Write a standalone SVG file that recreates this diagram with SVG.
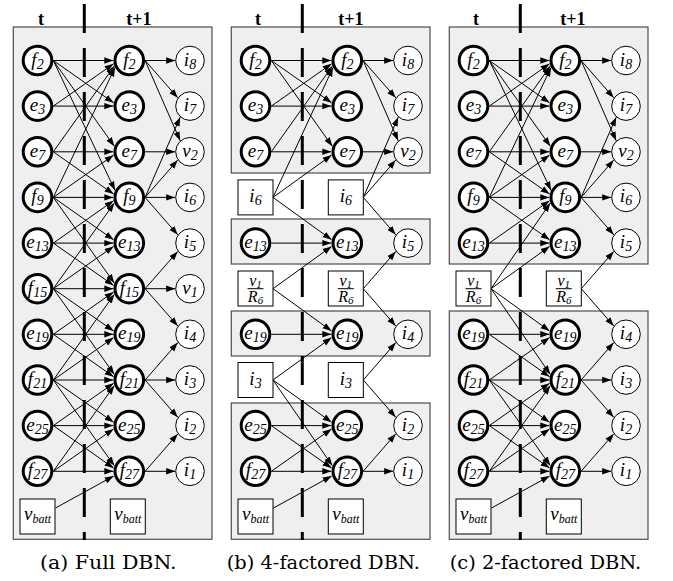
<svg xmlns="http://www.w3.org/2000/svg" width="673" height="581" viewBox="0 0 673 581" font-family="'Liberation Serif','DejaVu Serif',serif">
<style>
.bx{fill:#efefef;stroke:#4d4d4d;stroke-width:1.2}
.dash{stroke:#000;stroke-width:3;stroke-dasharray:29 15;fill:none}
.e{stroke:#000;stroke-width:1;fill:none;marker-end:url(#ah)}
.nt{fill:#fff;stroke:#000;stroke-width:3}
.no{fill:#fff;stroke:#000;stroke-width:1}
.sq{fill:#fff;stroke:#000;stroke-width:1}
.fl{stroke:#000;stroke-width:1}
text{font-family:'Liberation Serif','DejaVu Serif',serif}
.lb{font-style:italic;font-size:19px;text-anchor:middle}
.sb{font-size:14px}
.sbb{font-size:12px}
.fr{font-style:italic;font-size:16px;text-anchor:middle}
.sf{font-size:11px}
.hd{font-weight:bold;font-size:18px;text-anchor:middle}
.cap{font-family:'DejaVu Serif','Liberation Serif',serif;font-size:19px;text-anchor:middle}
</style>
<defs>
<marker id="ah" markerUnits="userSpaceOnUse" markerWidth="10" markerHeight="8" viewBox="-9 -4 10 8" refX="0" refY="0" orient="auto"><path d="M0,0 L-9,-3.2 L-9,3.2 z" fill="#000"/></marker>
</defs>

<g id="frames">
<g><rect class="bx" x="13.3" y="27" width="198.7" height="512.3"/></g>
<g transform="translate(218,0)">
<rect class="bx" x="13.3" y="27" width="198.7" height="146"/>
<rect class="bx" x="13.3" y="219" width="198.7" height="45"/>
<rect class="bx" x="13.3" y="311" width="198.7" height="45"/>
<rect class="bx" x="13.3" y="403" width="198.7" height="136.3"/>
</g>
<g transform="translate(436,0)">
<rect class="bx" x="13.3" y="27" width="198.7" height="237"/>
<rect class="bx" x="13.3" y="311" width="198.7" height="228.3"/>
</g>
</g>

<g id="separators">
<g><path class="dash" d="M84.3 4V540"/><text class="hd" x="41" y="25">t</text><text class="hd" x="139" y="25">t+1</text></g>
<g transform="translate(218,0)"><path class="dash" d="M84.3 4V540"/><text class="hd" x="40" y="25">t</text><text class="hd" x="133" y="25">t+1</text></g>
<g transform="translate(436,0)"><path class="dash" d="M84.3 4V540"/><text class="hd" x="40" y="25">t</text><text class="hd" x="137" y="25">t+1</text></g>
</g>

<g id="connectors" class="e">
<g id="conn-a">
<path d="M53.3 60.5H113.3"/><path d="M53.3 106.1H113.3"/><path d="M53.3 151.8H113.3"/><path d="M53.3 197.4H113.3"/><path d="M53.3 243.1H113.3"/><path d="M53.3 288.7H113.3"/><path d="M53.3 334.3H113.3"/><path d="M53.3 380H113.3"/><path d="M53.3 425.6H113.3"/><path d="M53.3 471.3H113.3"/>
<path d="M53.3 60.5L113.6 102.8"/><path d="M53.3 106.1L113.6 63.8"/>
<path d="M53.3 60.5L114.3 146.2"/><path d="M53.3 151.8L114.3 66.1"/>
<path d="M53.3 60.5L115 190.35"/><path d="M53.3 197.4L115 67.55"/>
<path d="M53.3 151.8L113.6 194.1"/><path d="M53.3 197.4L113.6 155.1"/>
<path d="M53.3 197.4L113.6 239.8"/><path d="M53.3 243.1L113.6 200.7"/>
<path d="M53.3 197.4L114.3 283.1"/><path d="M53.3 288.7L114.3 203"/>
<path d="M53.3 243.1L113.6 285.4"/><path d="M53.3 288.7L113.6 246.4"/>
<path d="M53.3 288.7L113.6 331"/><path d="M53.3 334.3L113.6 292"/>
<path d="M53.3 288.7L114.3 374.4"/><path d="M53.3 380L114.3 294.3"/>
<path d="M53.3 334.3L113.6 376.7"/><path d="M53.3 380L113.6 337.6"/>
<path d="M53.3 380L113.6 422.3"/><path d="M53.3 425.6L113.6 383.3"/>
<path d="M53.3 380L114.3 465.7"/><path d="M53.3 471.3L114.3 385.6"/>
<path d="M53.3 425.6L113.6 468"/><path d="M53.3 471.3L113.6 428.9"/>
<path d="M55.5 508L113.7 476"/>
<path d="M145.1 60.5H175.2"/><path d="M145.1 60.5L177.75 97.8"/><path d="M145.1 60.5L180.2 140.75"/>
<path d="M145.1 151.8H175.2"/>
<path d="M145.1 197.4L180.2 117.15"/><path d="M145.1 197.4L177.75 160.1"/><path d="M145.1 197.4H175.2"/><path d="M145.1 197.4L177.75 234.8"/>
<path d="M145.1 288.7L177.75 251.4"/><path d="M145.1 288.7H175.2"/><path d="M145.1 288.7L177.75 326"/>
<path d="M145.1 380L177.75 342.6"/><path d="M145.1 380H175.2"/><path d="M145.1 380L177.75 417.3"/>
<path d="M145.1 471.3L177.75 433.9"/><path d="M145.1 471.3H175.2"/>
</g>
<g id="conn-b" transform="translate(218,0)">
<path d="M53.3 60.5H113.3"/><path d="M53.3 106.1H113.3"/><path d="M53.3 151.8H113.3"/><path d="M53.3 243.1H113.3"/><path d="M53.3 334.3H113.3"/><path d="M53.3 425.6H113.3"/><path d="M53.3 471.3H113.3"/>
<path d="M53.3 60.5L113.6 102.8"/><path d="M53.3 106.1L113.6 63.8"/>
<path d="M53.3 60.5L114.3 146.2"/><path d="M53.3 151.8L114.3 66.1"/>
<path d="M55 197.4L115 67.55"/><path d="M55 197.4L113.6 155.1"/><path d="M55 197.4L113.6 239.8"/>
<path d="M55 288.7L113.6 246.4"/><path d="M55 288.7L113.6 331"/>
<path d="M55 380L113.6 337.6"/><path d="M55 380L113.6 422.3"/><path d="M55 380L114.3 465.7"/>
<path d="M53.3 425.6L113.6 468"/><path d="M53.3 471.3L113.6 428.9"/>
<path d="M55.5 508L113.7 476"/>
<path d="M145.1 60.5H175.2"/><path d="M145.1 60.5L177.75 97.8"/><path d="M145.1 60.5L180.2 140.75"/>
<path d="M145.1 151.8H175.2"/>
<path d="M145.3 197.4L180.2 117.15"/><path d="M145.3 197.4L177.75 160.1"/><path d="M145.3 197.4L177.75 234.8"/>
<path d="M145.3 288.7L177.75 251.4"/><path d="M145.3 288.7L177.75 326"/>
<path d="M145.3 380L177.75 342.6"/><path d="M145.3 380L177.75 417.3"/>
<path d="M145.1 471.3L177.75 433.9"/><path d="M145.1 471.3H175.2"/>
</g>
<g id="conn-c" transform="translate(436,0)">
<path d="M53.3 60.5H113.3"/><path d="M53.3 106.1H113.3"/><path d="M53.3 151.8H113.3"/><path d="M53.3 197.4H113.3"/><path d="M53.3 243.1H113.3"/><path d="M53.3 334.3H113.3"/><path d="M53.3 380H113.3"/><path d="M53.3 425.6H113.3"/><path d="M53.3 471.3H113.3"/>
<path d="M53.3 60.5L113.6 102.8"/><path d="M53.3 106.1L113.6 63.8"/>
<path d="M53.3 60.5L114.3 146.2"/><path d="M53.3 151.8L114.3 66.1"/>
<path d="M53.3 60.5L115 190.35"/><path d="M53.3 197.4L115 67.55"/>
<path d="M53.3 151.8L113.6 194.1"/><path d="M53.3 197.4L113.6 155.1"/>
<path d="M53.3 197.4L113.6 239.8"/><path d="M53.3 243.1L113.6 200.7"/>
<path d="M55 288.7L114.3 203"/><path d="M55 288.7L113.6 246.4"/><path d="M55 288.7L113.6 331"/><path d="M55 288.7L114.3 374.4"/>
<path d="M53.3 334.3L113.6 376.7"/><path d="M53.3 380L113.6 337.6"/>
<path d="M53.3 380L113.6 422.3"/><path d="M53.3 425.6L113.6 383.3"/>
<path d="M53.3 380L114.3 465.7"/><path d="M53.3 471.3L114.3 385.6"/>
<path d="M53.3 425.6L113.6 468"/><path d="M53.3 471.3L113.6 428.9"/>
<path d="M55.5 508L113.7 476"/>
<path d="M145.1 60.5H175.2"/><path d="M145.1 60.5L177.75 97.8"/><path d="M145.1 60.5L180.2 140.75"/>
<path d="M145.1 151.8H175.2"/>
<path d="M145.1 197.4L180.2 117.15"/><path d="M145.1 197.4L177.75 160.1"/><path d="M145.1 197.4H175.2"/><path d="M145.1 197.4L177.75 234.8"/>
<path d="M145.3 288.7L177.75 251.4"/><path d="M145.3 288.7L177.75 326"/>
<path d="M145.1 380L177.75 342.6"/><path d="M145.1 380H175.2"/><path d="M145.1 380L177.75 417.3"/>
<path d="M145.1 471.3L177.75 433.9"/><path d="M145.1 471.3H175.2"/>
</g>
</g>

<g id="nodes-a">
<g id="a-t-f2"><circle class="nt" cx="37.5" cy="60.5" r="14.3"/><text class="lb" x="37.5" y="65.5">f<tspan class="sb" dy="3">2</tspan></text></g>
<g id="a-t-e3"><circle class="nt" cx="37.5" cy="106.1" r="14.3"/><text class="lb" x="37.5" y="111.1">e<tspan class="sb" dy="3">3</tspan></text></g>
<g id="a-t-e7"><circle class="nt" cx="37.5" cy="151.8" r="14.3"/><text class="lb" x="37.5" y="156.8">e<tspan class="sb" dy="3">7</tspan></text></g>
<g id="a-t-f9"><circle class="nt" cx="37.5" cy="197.4" r="14.3"/><text class="lb" x="37.5" y="202.4">f<tspan class="sb" dy="3">9</tspan></text></g>
<g id="a-t-e13"><circle class="nt" cx="37.5" cy="243.1" r="14.3"/><text class="lb" x="37.5" y="248.1">e<tspan class="sb" dy="3">13</tspan></text></g>
<g id="a-t-f15"><circle class="nt" cx="37.5" cy="288.7" r="14.3"/><text class="lb" x="37.5" y="293.7">f<tspan class="sb" dy="3">15</tspan></text></g>
<g id="a-t-e19"><circle class="nt" cx="37.5" cy="334.3" r="14.3"/><text class="lb" x="37.5" y="339.3">e<tspan class="sb" dy="3">19</tspan></text></g>
<g id="a-t-f21"><circle class="nt" cx="37.5" cy="380" r="14.3"/><text class="lb" x="37.5" y="385">f<tspan class="sb" dy="3">21</tspan></text></g>
<g id="a-t-e25"><circle class="nt" cx="37.5" cy="425.6" r="14.3"/><text class="lb" x="37.5" y="430.6">e<tspan class="sb" dy="3">25</tspan></text></g>
<g id="a-t-f27"><circle class="nt" cx="37.5" cy="471.3" r="14.3"/><text class="lb" x="37.5" y="476.3">f<tspan class="sb" dy="3">27</tspan></text></g>
<g id="a-t-vbatt"><rect class="sq" x="20" y="499" width="35" height="35"/><text class="lb" x="37.5" y="520">v<tspan class="sbb" dy="3">batt</tspan></text></g>
<g id="a-t1-f2"><circle class="nt" cx="129.3" cy="60.5" r="14.3"/><text class="lb" x="129.3" y="65.5">f<tspan class="sb" dy="3">2</tspan></text></g>
<g id="a-t1-e3"><circle class="nt" cx="129.3" cy="106.1" r="14.3"/><text class="lb" x="129.3" y="111.1">e<tspan class="sb" dy="3">3</tspan></text></g>
<g id="a-t1-e7"><circle class="nt" cx="129.3" cy="151.8" r="14.3"/><text class="lb" x="129.3" y="156.8">e<tspan class="sb" dy="3">7</tspan></text></g>
<g id="a-t1-f9"><circle class="nt" cx="129.3" cy="197.4" r="14.3"/><text class="lb" x="129.3" y="202.4">f<tspan class="sb" dy="3">9</tspan></text></g>
<g id="a-t1-e13"><circle class="nt" cx="129.3" cy="243.1" r="14.3"/><text class="lb" x="129.3" y="248.1">e<tspan class="sb" dy="3">13</tspan></text></g>
<g id="a-t1-f15"><circle class="nt" cx="129.3" cy="288.7" r="14.3"/><text class="lb" x="129.3" y="293.7">f<tspan class="sb" dy="3">15</tspan></text></g>
<g id="a-t1-e19"><circle class="nt" cx="129.3" cy="334.3" r="14.3"/><text class="lb" x="129.3" y="339.3">e<tspan class="sb" dy="3">19</tspan></text></g>
<g id="a-t1-f21"><circle class="nt" cx="129.3" cy="380" r="14.3"/><text class="lb" x="129.3" y="385">f<tspan class="sb" dy="3">21</tspan></text></g>
<g id="a-t1-e25"><circle class="nt" cx="129.3" cy="425.6" r="14.3"/><text class="lb" x="129.3" y="430.6">e<tspan class="sb" dy="3">25</tspan></text></g>
<g id="a-t1-f27"><circle class="nt" cx="129.3" cy="471.3" r="14.3"/><text class="lb" x="129.3" y="476.3">f<tspan class="sb" dy="3">27</tspan></text></g>
<g id="a-t1-vbatt"><rect class="sq" x="110.3" y="499" width="35" height="35"/><text class="lb" x="127.8" y="520">v<tspan class="sbb" dy="3">batt</tspan></text></g>
<g id="a-i8"><circle class="no" cx="190" cy="60.5" r="14.3"/><text class="lb" x="190" y="65.5">i<tspan class="sb" dy="3">8</tspan></text></g>
<g id="a-i7"><circle class="no" cx="190" cy="106.1" r="14.3"/><text class="lb" x="190" y="111.1">i<tspan class="sb" dy="3">7</tspan></text></g>
<g id="a-v2"><circle class="no" cx="190" cy="151.8" r="14.3"/><text class="lb" x="190" y="156.8">v<tspan class="sb" dy="3">2</tspan></text></g>
<g id="a-i6"><circle class="no" cx="190" cy="197.4" r="14.3"/><text class="lb" x="190" y="202.4">i<tspan class="sb" dy="3">6</tspan></text></g>
<g id="a-i5"><circle class="no" cx="190" cy="243.1" r="14.3"/><text class="lb" x="190" y="248.1">i<tspan class="sb" dy="3">5</tspan></text></g>
<g id="a-v1"><circle class="no" cx="190" cy="288.7" r="14.3"/><text class="lb" x="190" y="293.7">v<tspan class="sb" dy="3">1</tspan></text></g>
<g id="a-i4"><circle class="no" cx="190" cy="334.3" r="14.3"/><text class="lb" x="190" y="339.3">i<tspan class="sb" dy="3">4</tspan></text></g>
<g id="a-i3"><circle class="no" cx="190" cy="380" r="14.3"/><text class="lb" x="190" y="385">i<tspan class="sb" dy="3">3</tspan></text></g>
<g id="a-i2"><circle class="no" cx="190" cy="425.6" r="14.3"/><text class="lb" x="190" y="430.6">i<tspan class="sb" dy="3">2</tspan></text></g>
<g id="a-i1"><circle class="no" cx="190" cy="471.3" r="14.3"/><text class="lb" x="190" y="476.3">i<tspan class="sb" dy="3">1</tspan></text></g>
</g>

<g id="nodes-b" transform="translate(218,0)">
<g id="b-t-f2"><circle class="nt" cx="37.5" cy="60.5" r="14.3"/><text class="lb" x="37.5" y="65.5">f<tspan class="sb" dy="3">2</tspan></text></g>
<g id="b-t-e3"><circle class="nt" cx="37.5" cy="106.1" r="14.3"/><text class="lb" x="37.5" y="111.1">e<tspan class="sb" dy="3">3</tspan></text></g>
<g id="b-t-e7"><circle class="nt" cx="37.5" cy="151.8" r="14.3"/><text class="lb" x="37.5" y="156.8">e<tspan class="sb" dy="3">7</tspan></text></g>
<g id="b-t-i6"><rect class="sq" x="20" y="179.9" width="35" height="35"/><text class="lb" x="37.5" y="202.4">i<tspan class="sb" dy="3">6</tspan></text></g>
<g id="b-t-e13"><circle class="nt" cx="37.5" cy="243.1" r="14.3"/><text class="lb" x="37.5" y="248.1">e<tspan class="sb" dy="3">13</tspan></text></g>
<g id="b-t-v1R6"><rect class="sq" x="20" y="271" width="35" height="35"/><text class="fr" x="37.5" y="285.7">v<tspan class="sf" dy="2">1</tspan></text><line class="fl" x1="29.5" y1="288.7" x2="45.5" y2="288.7"/><text class="fr" x="37.5" y="301.5">R<tspan class="sf" dy="2.5">6</tspan></text></g>
<g id="b-t-e19"><circle class="nt" cx="37.5" cy="334.3" r="14.3"/><text class="lb" x="37.5" y="339.3">e<tspan class="sb" dy="3">19</tspan></text></g>
<g id="b-t-i3"><rect class="sq" x="20" y="362.5" width="35" height="35"/><text class="lb" x="37.5" y="385">i<tspan class="sb" dy="3">3</tspan></text></g>
<g id="b-t-e25"><circle class="nt" cx="37.5" cy="425.6" r="14.3"/><text class="lb" x="37.5" y="430.6">e<tspan class="sb" dy="3">25</tspan></text></g>
<g id="b-t-f27"><circle class="nt" cx="37.5" cy="471.3" r="14.3"/><text class="lb" x="37.5" y="476.3">f<tspan class="sb" dy="3">27</tspan></text></g>
<g id="b-t-vbatt"><rect class="sq" x="20" y="499" width="35" height="35"/><text class="lb" x="37.5" y="520">v<tspan class="sbb" dy="3">batt</tspan></text></g>
<g id="b-t1-f2"><circle class="nt" cx="129.3" cy="60.5" r="14.3"/><text class="lb" x="129.3" y="65.5">f<tspan class="sb" dy="3">2</tspan></text></g>
<g id="b-t1-e3"><circle class="nt" cx="129.3" cy="106.1" r="14.3"/><text class="lb" x="129.3" y="111.1">e<tspan class="sb" dy="3">3</tspan></text></g>
<g id="b-t1-e7"><circle class="nt" cx="129.3" cy="151.8" r="14.3"/><text class="lb" x="129.3" y="156.8">e<tspan class="sb" dy="3">7</tspan></text></g>
<g id="b-t1-i6"><rect class="sq" x="110.3" y="179.9" width="35" height="35"/><text class="lb" x="127.8" y="202.4">i<tspan class="sb" dy="3">6</tspan></text></g>
<g id="b-t1-e13"><circle class="nt" cx="129.3" cy="243.1" r="14.3"/><text class="lb" x="129.3" y="248.1">e<tspan class="sb" dy="3">13</tspan></text></g>
<g id="b-t1-v1R6"><rect class="sq" x="110.3" y="271" width="35" height="35"/><text class="fr" x="127.8" y="285.7">v<tspan class="sf" dy="2">1</tspan></text><line class="fl" x1="119.8" y1="288.7" x2="135.8" y2="288.7"/><text class="fr" x="127.8" y="301.5">R<tspan class="sf" dy="2.5">6</tspan></text></g>
<g id="b-t1-e19"><circle class="nt" cx="129.3" cy="334.3" r="14.3"/><text class="lb" x="129.3" y="339.3">e<tspan class="sb" dy="3">19</tspan></text></g>
<g id="b-t1-i3"><rect class="sq" x="110.3" y="362.5" width="35" height="35"/><text class="lb" x="127.8" y="385">i<tspan class="sb" dy="3">3</tspan></text></g>
<g id="b-t1-e25"><circle class="nt" cx="129.3" cy="425.6" r="14.3"/><text class="lb" x="129.3" y="430.6">e<tspan class="sb" dy="3">25</tspan></text></g>
<g id="b-t1-f27"><circle class="nt" cx="129.3" cy="471.3" r="14.3"/><text class="lb" x="129.3" y="476.3">f<tspan class="sb" dy="3">27</tspan></text></g>
<g id="b-t1-vbatt"><rect class="sq" x="110.3" y="499" width="35" height="35"/><text class="lb" x="127.8" y="520">v<tspan class="sbb" dy="3">batt</tspan></text></g>
<g id="b-i8"><circle class="no" cx="190" cy="60.5" r="14.3"/><text class="lb" x="190" y="65.5">i<tspan class="sb" dy="3">8</tspan></text></g>
<g id="b-i7"><circle class="no" cx="190" cy="106.1" r="14.3"/><text class="lb" x="190" y="111.1">i<tspan class="sb" dy="3">7</tspan></text></g>
<g id="b-v2"><circle class="no" cx="190" cy="151.8" r="14.3"/><text class="lb" x="190" y="156.8">v<tspan class="sb" dy="3">2</tspan></text></g>
<g id="b-i5"><circle class="no" cx="190" cy="243.1" r="14.3"/><text class="lb" x="190" y="248.1">i<tspan class="sb" dy="3">5</tspan></text></g>
<g id="b-i4"><circle class="no" cx="190" cy="334.3" r="14.3"/><text class="lb" x="190" y="339.3">i<tspan class="sb" dy="3">4</tspan></text></g>
<g id="b-i2"><circle class="no" cx="190" cy="425.6" r="14.3"/><text class="lb" x="190" y="430.6">i<tspan class="sb" dy="3">2</tspan></text></g>
<g id="b-i1"><circle class="no" cx="190" cy="471.3" r="14.3"/><text class="lb" x="190" y="476.3">i<tspan class="sb" dy="3">1</tspan></text></g>
</g>

<g id="nodes-c" transform="translate(436,0)">
<g id="c-t-f2"><circle class="nt" cx="37.5" cy="60.5" r="14.3"/><text class="lb" x="37.5" y="65.5">f<tspan class="sb" dy="3">2</tspan></text></g>
<g id="c-t-e3"><circle class="nt" cx="37.5" cy="106.1" r="14.3"/><text class="lb" x="37.5" y="111.1">e<tspan class="sb" dy="3">3</tspan></text></g>
<g id="c-t-e7"><circle class="nt" cx="37.5" cy="151.8" r="14.3"/><text class="lb" x="37.5" y="156.8">e<tspan class="sb" dy="3">7</tspan></text></g>
<g id="c-t-f9"><circle class="nt" cx="37.5" cy="197.4" r="14.3"/><text class="lb" x="37.5" y="202.4">f<tspan class="sb" dy="3">9</tspan></text></g>
<g id="c-t-e13"><circle class="nt" cx="37.5" cy="243.1" r="14.3"/><text class="lb" x="37.5" y="248.1">e<tspan class="sb" dy="3">13</tspan></text></g>
<g id="c-t-v1R6"><rect class="sq" x="20" y="271" width="35" height="35"/><text class="fr" x="37.5" y="285.7">v<tspan class="sf" dy="2">1</tspan></text><line class="fl" x1="29.5" y1="288.7" x2="45.5" y2="288.7"/><text class="fr" x="37.5" y="301.5">R<tspan class="sf" dy="2.5">6</tspan></text></g>
<g id="c-t-e19"><circle class="nt" cx="37.5" cy="334.3" r="14.3"/><text class="lb" x="37.5" y="339.3">e<tspan class="sb" dy="3">19</tspan></text></g>
<g id="c-t-f21"><circle class="nt" cx="37.5" cy="380" r="14.3"/><text class="lb" x="37.5" y="385">f<tspan class="sb" dy="3">21</tspan></text></g>
<g id="c-t-e25"><circle class="nt" cx="37.5" cy="425.6" r="14.3"/><text class="lb" x="37.5" y="430.6">e<tspan class="sb" dy="3">25</tspan></text></g>
<g id="c-t-f27"><circle class="nt" cx="37.5" cy="471.3" r="14.3"/><text class="lb" x="37.5" y="476.3">f<tspan class="sb" dy="3">27</tspan></text></g>
<g id="c-t-vbatt"><rect class="sq" x="20" y="499" width="35" height="35"/><text class="lb" x="37.5" y="520">v<tspan class="sbb" dy="3">batt</tspan></text></g>
<g id="c-t1-f2"><circle class="nt" cx="129.3" cy="60.5" r="14.3"/><text class="lb" x="129.3" y="65.5">f<tspan class="sb" dy="3">2</tspan></text></g>
<g id="c-t1-e3"><circle class="nt" cx="129.3" cy="106.1" r="14.3"/><text class="lb" x="129.3" y="111.1">e<tspan class="sb" dy="3">3</tspan></text></g>
<g id="c-t1-e7"><circle class="nt" cx="129.3" cy="151.8" r="14.3"/><text class="lb" x="129.3" y="156.8">e<tspan class="sb" dy="3">7</tspan></text></g>
<g id="c-t1-f9"><circle class="nt" cx="129.3" cy="197.4" r="14.3"/><text class="lb" x="129.3" y="202.4">f<tspan class="sb" dy="3">9</tspan></text></g>
<g id="c-t1-e13"><circle class="nt" cx="129.3" cy="243.1" r="14.3"/><text class="lb" x="129.3" y="248.1">e<tspan class="sb" dy="3">13</tspan></text></g>
<g id="c-t1-v1R6"><rect class="sq" x="110.3" y="271" width="35" height="35"/><text class="fr" x="127.8" y="285.7">v<tspan class="sf" dy="2">1</tspan></text><line class="fl" x1="119.8" y1="288.7" x2="135.8" y2="288.7"/><text class="fr" x="127.8" y="301.5">R<tspan class="sf" dy="2.5">6</tspan></text></g>
<g id="c-t1-e19"><circle class="nt" cx="129.3" cy="334.3" r="14.3"/><text class="lb" x="129.3" y="339.3">e<tspan class="sb" dy="3">19</tspan></text></g>
<g id="c-t1-f21"><circle class="nt" cx="129.3" cy="380" r="14.3"/><text class="lb" x="129.3" y="385">f<tspan class="sb" dy="3">21</tspan></text></g>
<g id="c-t1-e25"><circle class="nt" cx="129.3" cy="425.6" r="14.3"/><text class="lb" x="129.3" y="430.6">e<tspan class="sb" dy="3">25</tspan></text></g>
<g id="c-t1-f27"><circle class="nt" cx="129.3" cy="471.3" r="14.3"/><text class="lb" x="129.3" y="476.3">f<tspan class="sb" dy="3">27</tspan></text></g>
<g id="c-t1-vbatt"><rect class="sq" x="110.3" y="499" width="35" height="35"/><text class="lb" x="127.8" y="520">v<tspan class="sbb" dy="3">batt</tspan></text></g>
<g id="c-i8"><circle class="no" cx="190" cy="60.5" r="14.3"/><text class="lb" x="190" y="65.5">i<tspan class="sb" dy="3">8</tspan></text></g>
<g id="c-i7"><circle class="no" cx="190" cy="106.1" r="14.3"/><text class="lb" x="190" y="111.1">i<tspan class="sb" dy="3">7</tspan></text></g>
<g id="c-v2"><circle class="no" cx="190" cy="151.8" r="14.3"/><text class="lb" x="190" y="156.8">v<tspan class="sb" dy="3">2</tspan></text></g>
<g id="c-i6"><circle class="no" cx="190" cy="197.4" r="14.3"/><text class="lb" x="190" y="202.4">i<tspan class="sb" dy="3">6</tspan></text></g>
<g id="c-i5"><circle class="no" cx="190" cy="243.1" r="14.3"/><text class="lb" x="190" y="248.1">i<tspan class="sb" dy="3">5</tspan></text></g>
<g id="c-i4"><circle class="no" cx="190" cy="334.3" r="14.3"/><text class="lb" x="190" y="339.3">i<tspan class="sb" dy="3">4</tspan></text></g>
<g id="c-i3"><circle class="no" cx="190" cy="380" r="14.3"/><text class="lb" x="190" y="385">i<tspan class="sb" dy="3">3</tspan></text></g>
<g id="c-i2"><circle class="no" cx="190" cy="425.6" r="14.3"/><text class="lb" x="190" y="430.6">i<tspan class="sb" dy="3">2</tspan></text></g>
<g id="c-i1"><circle class="no" cx="190" cy="471.3" r="14.3"/><text class="lb" x="190" y="476.3">i<tspan class="sb" dy="3">1</tspan></text></g>
</g>

<g id="captions">
<text class="cap" x="108.3" y="569" textLength="136.7" lengthAdjust="spacingAndGlyphs">(a) Full DBN.</text>
<text class="cap" x="323.3" y="569" textLength="193.3" lengthAdjust="spacingAndGlyphs">(b) 4-factored DBN.</text>
<text class="cap" x="545.5" y="569" textLength="191.6" lengthAdjust="spacingAndGlyphs">(c) 2-factored DBN.</text>
</g>
</svg>
